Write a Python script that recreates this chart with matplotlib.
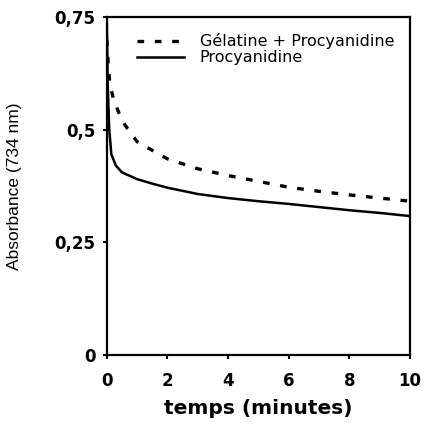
import matplotlib
matplotlib.use("Agg")
import matplotlib.pyplot as plt

# time (minutes) and absorbance at 734 nm
t_proc = [0, 0.03, 0.08, 0.15, 0.3, 0.5, 1.0, 1.5, 2, 3, 4, 5, 6, 7, 8, 9, 10]
a_proc = [0.74, 0.60, 0.50, 0.445, 0.42, 0.405, 0.39, 0.38, 0.371, 0.357, 0.348,
          0.341, 0.335, 0.328, 0.321, 0.315, 0.308]

t_gel = [0, 0.05, 0.1, 0.25, 0.4, 0.6, 1.0, 1.6, 2.0, 3, 4, 5, 6, 7, 8, 9, 10]
a_gel = [0.70, 0.64, 0.60, 0.56, 0.537, 0.51, 0.473, 0.45, 0.435, 0.413, 0.398,
         0.385, 0.372, 0.363, 0.355, 0.348, 0.341]

x_ticks = [0, 2, 4, 6, 8, 10]
y_ticks = [0, 0.25, 0.5, 0.75]
y_labels = ["0", "0,25", "0,5", "0,75"]

fig = plt.figure(figsize=(4.29, 4.23), dpi=100)
ax = fig.add_axes([0.249, 0.161, 0.707, 0.799])

ax.plot(t_gel, a_gel, color="black", linewidth=2.4, linestyle=(0, (2, 3.2)),
        label="Gélatine + Procyanidine")
ax.plot(t_proc, a_proc, color="black", linewidth=1.8, label="Procyanidine")

ax.set_xlim(0, 10)
ax.set_ylim(0, 0.75)
ax.set_xticks(x_ticks)
ax.set_yticks(y_ticks)
ax.set_yticklabels(y_labels)
ax.tick_params(axis="x", direction="out", length=3, width=1.5, pad=9, labelsize=12)
ax.tick_params(axis="y", direction="out", length=3, width=1.5, pad=5, labelsize=12)
for lab in ax.get_xticklabels() + ax.get_yticklabels():
    lab.set_fontweight("bold")
for sp in ax.spines.values():
    sp.set_linewidth(1.6)

ax.set_xlabel("temps (minutes)", fontsize=14.5, fontweight="bold", labelpad=7)
ax.set_ylabel("Absorbance (734 nm)", fontsize=12.5, family="Liberation Sans")
ax.yaxis.set_label_coords(-0.28, 0.5)

ax.legend(loc="upper left", bbox_to_anchor=(0.08, 0.97), frameon=False,
          fontsize=11.5, handlelength=2.9, handletextpad=1.0, labelspacing=0.05,
          borderaxespad=0.0)

fig.savefig("out.png", dpi=100)
